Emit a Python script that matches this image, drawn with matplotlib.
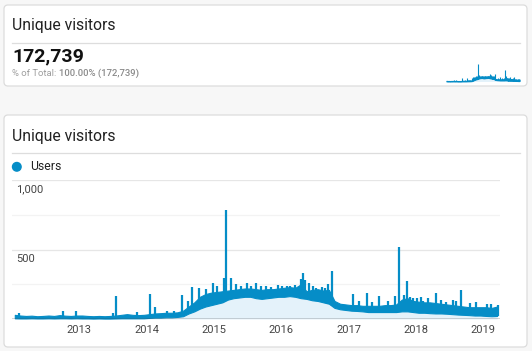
import matplotlib
matplotlib.use("Agg")
import matplotlib.pyplot as plt
from matplotlib.patches import FancyBboxPatch, Circle
import numpy as np

plt.rcParams['font.family'] = ['Roboto', 'DejaVu Sans']

# monthly envelope of the daily "Users" series, Jan 2012 .. Mar 2019
start_year = 2012
users_low = [
    5, 4, 4, 5, 4, 4, 5, 4, 5, 5, 4, 5,                    # 2012
    4, 4, 3, 4, 3, 3, 4, 5, 5, 5, 5, 5,                    # 2013
    8, 10, 10, 12, 12, 15, 20, 40, 55, 75, 90, 100,        # 2014
    110, 120, 140, 150, 155, 160, 160, 150, 145, 150, 155, 160,  # 2015
    160, 165, 160, 150, 145, 135, 130, 120, 110, 80, 70, 65,     # 2016
    60, 58, 55, 50, 50, 50, 50, 50, 50, 55, 55, 50,        # 2017
    45, 45, 42, 40, 40, 38, 35, 32, 30, 28, 25, 25,        # 2018
    22, 20, 22,                                            # 2019
]
users_high = [
    30, 25, 22, 24, 20, 22, 25, 22, 28, 24, 22, 25,
    25, 22, 20, 22, 20, 22, 25, 30, 35, 30, 28, 30,
    35, 40, 42, 45, 45, 48, 60, 90, 120, 160, 180, 190,
    195, 200, 205, 210, 215, 220, 220, 215, 210, 215, 215, 220,
    225, 230, 225, 250, 200, 210, 215, 205, 210, 130, 110, 105,
    100, 100, 95, 95, 95, 95, 100, 100, 105, 140, 150, 130,
    125, 120, 120, 115, 110, 105, 100, 95, 90, 85, 85, 85,
    85, 80, 90,
]
# single-day peaks (decimal year, users)
spike_dates = [2012.11, 2012.76, 2012.95, 2013.50, 2013.55, 2013.85,
               2014.05, 2014.12, 2014.30, 2014.40, 2014.53, 2014.62, 2014.68, 2014.78, 2014.88,
               2014.98, 2015.05, 2015.15, 2015.18, 2015.26, 2015.33, 2015.40, 2015.49,
               2015.55, 2015.62, 2015.70, 2015.78, 2015.85, 2015.95,
               2016.01, 2016.08, 2016.13, 2016.20, 2016.29, 2016.32, 2016.36, 2016.41,
               2016.47, 2016.52, 2016.60, 2016.65, 2016.70, 2016.76,
               2017.06, 2017.15, 2017.28, 2017.35, 2017.45, 2017.58, 2017.69, 2017.75,
               2017.82, 2017.87, 2017.92, 2017.96,
               2018.02, 2018.08, 2018.11, 2018.18, 2018.30, 2018.38, 2018.45, 2018.55,
               2018.60, 2018.67, 2018.80, 2018.90, 2019.05, 2019.12, 2019.22]
spike_values = [40, 60, 55, 45, 165, 52,
                178, 88, 60, 55, 172, 130, 228, 221, 215,
                257, 240, 293, 784, 295, 252, 235, 257,
                240, 257, 235, 240, 230, 245,
                237, 240, 237, 245, 290, 333, 280, 257,
                235, 221, 230, 225, 250, 343,
                180, 130, 185, 125, 165, 130, 165, 520,
                175, 273, 160, 155,
                150, 156, 130, 150, 190, 135, 125, 140,
                130, 210, 115, 120, 110, 105, 100]

total_users = "172,739"
year_ticks = [2013, 2014, 2015, 2016, 2017, 2018, 2019]

line_blue = '#058dc7'
fill_blue = '#e4f2fa'

months = np.arange(len(users_low))
x = start_year + (months + 0.5) / 12.0
low = np.array(users_low)
high = np.array(users_high)


def draw_series(ax, lw_spike):
    ax.fill_between(x, 0, low, color=fill_blue, lw=0, zorder=1)
    ax.fill_between(x, low, high, color=line_blue, lw=0.8, edgecolor=line_blue, zorder=3)
    base = np.interp(spike_dates, x, low)
    ax.vlines(spike_dates, base, spike_values, color=line_blue, lw=lw_spike, zorder=3)


fig = plt.figure(figsize=(5.32, 3.51), dpi=100, facecolor='#f7f7f7')

# background layer in pixel coordinates
bg = fig.add_axes([0, 0, 1, 1])
bg.set_xlim(0, 532)
bg.set_ylim(351, 0)
bg.axis('off')

for (y0, y1) in [(5, 86), (115, 347)]:
    bg.add_patch(FancyBboxPatch((4, y0), 523, y1 - y0,
                                boxstyle="round,pad=0,rounding_size=4",
                                fc='white', ec='#dcdcdc', lw=0.9))

# top scorecard
bg.text(12, 30, "Unique visitors", fontsize=11.3, color='#212121', va='baseline')
bg.plot([12, 520], [42.5, 42.5], color='#dddddd', lw=0.9)
bg.text(12, 61.5, total_users, fontsize=14, fontweight='bold', color='#111111', va='baseline')
t = bg.text(12, 75.5, "% of Total: ", fontsize=6.8, color='#9e9e9e', va='baseline')
fig.canvas.draw()
bb = t.get_window_extent()
bg.text(12 + bb.width, 75.5, "100.00% (" + total_users + ")", fontsize=6.8,
        fontweight='medium', color='#8a8a8a', va='baseline')

# main panel header and legend
bg.text(12, 140.5, "Unique visitors", fontsize=11.3, color='#212121', va='baseline')
bg.plot([12, 520], [152.5, 152.5], color='#dddddd', lw=0.9)
bg.add_patch(Circle((16.8, 166.8), 4.3, color=line_blue))
bg.text(30, 167, "Users", fontsize=8.8, color='#212121', va='center')

# sparkline
sp = fig.add_axes([446 / 532, 1 - 81.5 / 351, 74 / 532, 18.5 / 351])
draw_series(sp, 0.8)
sp.set_xlim(start_year, 2019.25)
sp.set_ylim(0, 850)
sp.axis('off')

# main chart
ax = fig.add_axes([12 / 532, 1 - 319 / 351, 488 / 532, 138.7 / 351])
ax.set_facecolor('none')
draw_series(ax, 1.6)
ax.set_xlim(start_year, 2019.25)
ax.set_ylim(0, 1000)
for v, c in [(250, '#f3f3f3'), (500, '#e6e6e6'), (750, '#f3f3f3'), (1000, '#e6e6e6')]:
    ax.axhline(v, color=c, lw=0.9, zorder=0)
ax.axhline(0, color='#333333', lw=1.0, zorder=4)
for s in ax.spines.values():
    s.set_visible(False)
ax.set_yticks([])
ax.set_xticks(year_ticks)
ax.set_xticklabels([str(y) for y in year_ticks], fontsize=8, color='#444444')
ax.tick_params(axis='x', length=0, pad=4)
ax.text(2012.06, 933, "1,000", fontsize=8, color='#444444', va='center')
ax.text(2012.06, 432, "500", fontsize=8, color='#444444', va='center')

fig.savefig("out.png", dpi=100, facecolor=fig.get_facecolor())
